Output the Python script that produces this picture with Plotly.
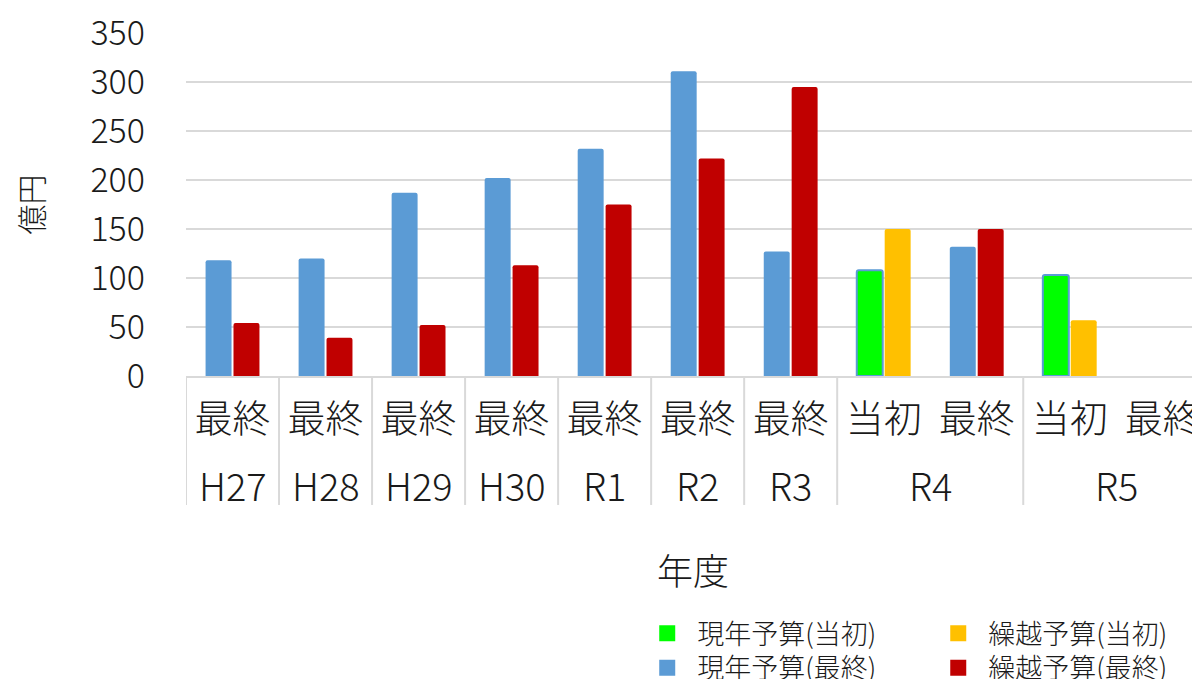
import plotly.graph_objects as go

# --- data ---
years = ["H27", "H28", "H29", "H30", "R1", "R2", "R3", "R4", "R4", "R5", "R5"]
phases = ["最終", "最終", "最終", "最終", "最終", "最終", "最終", "当初", "最終", "当初", "最終"]
genen_tosho = [None, None, None, None, None, None, None, 108, None, 103, None]       # 現年予算(当初)
kurikoshi_tosho = [None, None, None, None, None, None, None, 150, None, 57, None]    # 繰越予算(当初)
genen_saishu = [118, 120, 187, 202, 232, 311, 127, None, 132, None, None]           # 現年予算(最終)
kurikoshi_saishu = [54, 39, 52, 113, 175, 222, 295, None, 150, None, None]          # 繰越予算(最終)
y_ticks = [0, 50, 100, 150, 200, 250, 300, 350]

FONT = "Noto Sans CJK JP"
GREEN, ORANGE, BLUE, RED = "#00FF00", "#FFC000", "#5B9BD5", "#C00000"
GRID = "#D9D9D9"
TXT = "#1a1a1a"
W = 300

# unique category keys for the x axis; the visible tick text is the phase
keys = [f"{y}|{p}" for y, p in zip(years, phases)]

fig = go.Figure()
series = [
    ("現年予算(当初)", genen_tosho, GREEN, "cur", BLUE, 2, "legend"),
    ("繰越予算(当初)", kurikoshi_tosho, ORANGE, "carry", ORANGE, 0, "legend2"),
    ("現年予算(最終)", genen_saishu, BLUE, "cur", BLUE, 0, "legend3"),
    ("繰越予算(最終)", kurikoshi_saishu, RED, "carry", RED, 0, "legend4"),
]
for name, vals, col, og, lcol, lw, _ in series:
    fig.add_trace(go.Bar(
        x=keys, y=vals, name=name, offsetgroup=og, showlegend=False,
        marker=dict(color=col, line=dict(color=lcol, width=lw), cornerradius=2),
    ))
# legend proxies (larger square swatches)
for name, vals, col, og, lcol, lw, lg in series:
    fig.add_trace(go.Scatter(
        x=[keys[0]], y=[None], name=name, mode="markers", legend=lg,
        marker=dict(symbol="square", size=20, color=col, line=dict(width=0)),
        showlegend=True,
    ))

# year group labels and dividers (second level of the category axis)
groups = []
for i, yr in enumerate(years):
    if groups and groups[-1][0] == yr:
        groups[-1][1].append(i)
    else:
        groups.append((yr, [i]))

YEAR_Y = -0.316     # paper y of the year labels
DIV_Y = -0.376      # paper y where dividers end
annotations = []
shapes = []
for yr, idx in groups:
    annotations.append(dict(
        x=sum(idx) / len(idx), xref="x", y=YEAR_Y, yref="paper", text=yr,
        showarrow=False, yanchor="middle", xanchor="center",
        font=dict(family=FONT, size=38, color=TXT, weight=W),
    ))
    shapes.append(dict(type="line", xref="x", yref="paper", x0=idx[0] - 0.5, x1=idx[0] - 0.5,
                       y0=0, y1=DIV_Y, line=dict(color=GRID, width=2)))
shapes.append(dict(type="line", xref="x", yref="paper", x0=groups[-1][1][-1] + 0.5,
                   x1=groups[-1][1][-1] + 0.5, y0=0, y1=DIV_Y, line=dict(color=GRID, width=2)))

legend_common = dict(
    orientation="h", font=dict(family=FONT, size=27, color=TXT, weight=W),
    bgcolor="rgba(0,0,0,0)", itemwidth=50, yanchor="middle", xanchor="left",
)
lx1, lx2 = 0.445, 0.732
ly1, ly2 = -0.751, -0.852
fig.update_layout(
    width=1192, height=671,
    margin=dict(l=178, r=0, t=25, b=303, autoexpand=False),
    paper_bgcolor="white", plot_bgcolor="white",
    barmode="group", bargap=0.4, bargroupgap=0.07,
    font=dict(family=FONT, color=TXT, weight=W),
    legend=dict(x=lx1, y=ly1, **legend_common),
    legend2=dict(x=lx2, y=ly1, **legend_common),
    legend3=dict(x=lx1, y=ly2, **legend_common),
    legend4=dict(x=lx2, y=ly2, **legend_common),
    annotations=annotations,
    shapes=shapes,
    xaxis=dict(
        type="category", categoryorder="array", categoryarray=keys,
        tickvals=keys, ticktext=phases,
        range=[-0.5, 10.4],
        showline=True, linecolor=GRID, linewidth=2, showgrid=False,
        ticks="", ticklabelstandoff=8,
        tickfont=dict(family=FONT, size=38, color=TXT, weight=W),
        ticklabeloverflow="allow",
        title=dict(text="年度", font=dict(family=FONT, size=36, color=TXT, weight=W), standoff=118),
        automargin=False,
    ),
    yaxis=dict(
        range=[0, 350], tickvals=y_ticks, showgrid=True, gridcolor=GRID, gridwidth=2,
        zeroline=False, tickfont=dict(family=FONT, size=34, color=TXT, weight=W),
        ticklabelstandoff=40, ticklabeloverflow="allow",
        title=dict(text="億円", font=dict(family=FONT, size=30, color=TXT, weight=W), standoff=42),
        automargin=False,
    ),
)
fig.write_html("out.html")
